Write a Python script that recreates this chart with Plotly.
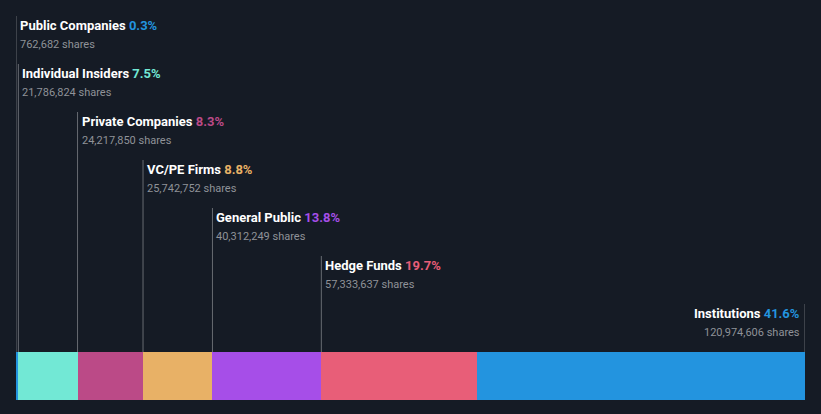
import plotly.graph_objects as go

categories = ["Public Companies", "Individual Insiders", "Private Companies", "VC/PE Firms",
              "General Public", "Hedge Funds", "Institutions"]
percents = [0.3, 7.5, 8.3, 8.8, 13.8, 19.7, 41.6]
shares = ["762,682", "21,786,824", "24,217,850", "25,742,752", "40,312,249", "57,333,637", "120,974,606"]
colors = ["#2394df", "#72e8d5", "#bb4a87", "#e8b166", "#a64ee8", "#e85e78", "#2394df"]

BG = "#151b25"
fig = go.Figure()

BAR_Y = 376
BAR_W = 48
for cat, p, c in zip(categories, percents, colors):
    fig.add_trace(go.Bar(x=[p], y=[BAR_Y], width=BAR_W, orientation="h",
                         marker=dict(color=c, line=dict(width=0)), name=cat,
                         hoverinfo="skip", showlegend=False))

starts = []
acc = 0
for p in percents:
    starts.append(acc)
    acc += p

shapes = []
annotations = []
n = len(categories)
for i, (cat, p, s, c, x0) in enumerate(zip(categories, percents, shares, colors, starts)):
    ty = 25 + 48 * i
    sy = ty + 19
    last = (i == n - 1)
    lx = x0 + p if last else x0
    shapes.append(dict(type="line", xref="x", yref="y", x0=lx, x1=lx, y0=ty - 9, y1=BAR_Y - BAR_W / 2,
                       line=dict(color="rgba(255,255,255,0.35)", width=1)))
    anchor = "right" if last else "left"
    shift = -4 if last else 3
    annotations.append(dict(x=lx, y=ty, xref="x", yref="y", xanchor=anchor, yanchor="middle",
                            xshift=shift, showarrow=False, borderpad=0,
                            text=f"<b>{cat}</b> <b><span style='color:{c}'>{p}%</span></b>",
                            font=dict(family="Roboto", size=13, color="#ffffff")))
    annotations.append(dict(x=lx, y=sy, xref="x", yref="y", xanchor=anchor, yanchor="middle",
                            xshift=shift, showarrow=False, borderpad=0,
                            text=f"{s} shares",
                            font=dict(family="Roboto", size=11, color="#8f9298")))

fig.update_layout(
    width=821, height=414,
    margin=dict(l=16, r=16, t=0, b=14),
    paper_bgcolor=BG, plot_bgcolor=BG,
    barmode="stack", bargap=0,
    xaxis=dict(range=[0, 100], visible=False, fixedrange=True),
    yaxis=dict(range=[400, 0], visible=False, fixedrange=True),
    shapes=shapes, annotations=annotations,
    showlegend=False,
)

fig.write_html("out.html", config={"displayModeBar": False},
               post_script="document.body.style.margin='0';document.body.style.background='" + BG + "';")
